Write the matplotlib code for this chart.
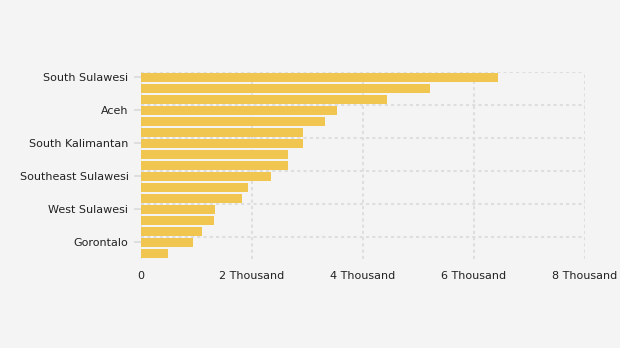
import numpy as np
import matplotlib.pyplot as plt

# provinces, top to bottom (only every third name is shown on the axis)
provinces = ["South Sulawesi", "Central Sulawesi", "Southeast Sulawesi A",
             "Aceh", "North Sumatra", "West Sumatra",
             "South Kalimantan", "Lampung", "East Java",
             "Southeast Sulawesi", "West Java", "Bali",
             "West Sulawesi", "Banten", "North Sulawesi",
             "Gorontalo", "Papua"]
values = [6430, 5210, 4430, 3530, 3310, 2920, 2920, 2650, 2650,
          2340, 1930, 1820, 1330, 1320, 1100, 940, 490]
xticks = [0, 2000, 4000, 6000, 8000]
xtick_labels = ["0", "2 Thousand", "4 Thousand", "6 Thousand", "8 Thousand"]

bg = "#f4f4f4"
bar_color = "#f0c650"
grid_color = "#dedede"
dots = (0, (1.5, 1.5))

fig = plt.figure(figsize=(6.2, 3.48), dpi=100, facecolor=bg)
ax = fig.add_axes([141 / 620, 1 - 258.7 / 348, 444 / 620, 187 / 348])
ax.set_facecolor(bg)

y = np.arange(len(provinces))
ax.barh(y, values, height=0.8, color=bar_color, zorder=2)

ax.set_xlim(0, 8000)
ax.set_ylim(len(provinces) - 0.5, -0.5)

ax.set_xticks(xticks)
ax.set_xticklabels(xtick_labels)
ax.set_yticks(y[::3])
ax.set_yticklabels(provinces[::3])
ax.set_yticks(np.arange(-0.5, len(provinces) - 1, 3), minor=True)

for s in ax.spines.values():
    s.set_visible(False)

ax.grid(axis="x", which="major", color=grid_color, linestyle=dots, linewidth=1.5, zorder=1)
ax.grid(axis="y", which="minor", color=grid_color, linestyle=dots, linewidth=1.5, zorder=1)

ax.tick_params(axis="x", length=0, pad=9, labelsize=8, labelcolor="#222222")
ax.tick_params(axis="y", which="major", length=5, width=1.5, color=grid_color,
               pad=4, labelsize=8, labelcolor="#222222")
ax.tick_params(axis="y", which="minor", length=0)

fig.savefig("out.png", dpi=100, facecolor=bg)
